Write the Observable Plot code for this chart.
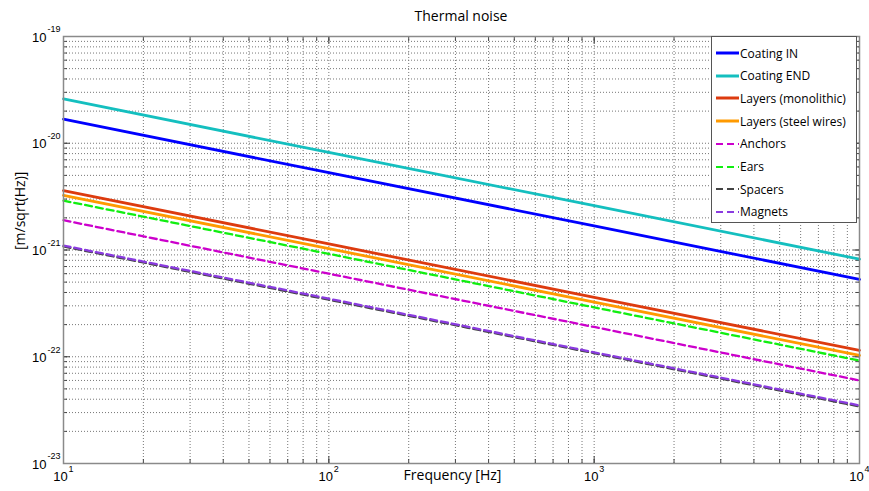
<!DOCTYPE html>
<html>
<head>
<meta charset="utf-8">
<script src="https://cdn.jsdelivr.net/npm/d3@7"></script>
<script src="https://cdn.jsdelivr.net/npm/@observablehq/plot@0.6"></script>
<style>
  body { margin: 0; background: #fff; }
  #wrap { position: relative; width: 869px; height: 491px; font-family: "Open Sans", Lato, sans-serif; }
  #title { position: absolute; left: 63px; top: 6px; width: 796px; text-align: center; font-size: 14px; color: #000; }
  #legend { position: absolute; left: 711px; top: 36px; width: 146px; height: 187px; background: #fff; border: 1px solid #555; box-sizing: border-box; }
  .item { position: absolute; left: 4px; height: 20px; display: flex; align-items: center; font-size: 12px; color: #000; white-space: nowrap; }
  .item svg { margin-right: 1px; }
</style>
</head>
<body>
<div id="wrap">
  <div id="chart"></div>
  <div id="title">Thermal noise</div>
  <div id="legend"></div>
</div>
<script>
// Frequencies (Hz) at which values were read
const freqs = [10, 100, 1000, 10000];

// Noise values [m/sqrt(Hz)] read at the frequencies above
const coatingIN      = [1.68e-20, 5.3e-21, 1.68e-21, 5.3e-22];
const coatingEND     = [2.6e-20, 8.2e-21, 2.6e-21, 8.2e-22];
const layersMono     = [3.6e-21, 1.14e-21, 3.6e-22, 1.15e-22];
const layersSteel    = [3.25e-21, 1.03e-21, 3.25e-22, 1.03e-22];
const anchors        = [1.9e-21, 6.0e-22, 1.9e-22, 6.0e-23];
const ears           = [2.9e-21, 9.2e-22, 2.9e-22, 9.2e-23];
const spacers        = [1.08e-21, 3.42e-22, 1.08e-22, 3.42e-23];
const magnets        = [1.1e-21, 3.5e-22, 1.1e-22, 3.5e-23];

const seriesNames  = ["Coating IN", "Coating END", "Layers (monolithic)", "Layers (steel wires)", "Anchors", "Ears", "Spacers", "Magnets"];
const seriesValues = [coatingIN, coatingEND, layersMono, layersSteel, anchors, ears, spacers, magnets];
const seriesColors = ["#0000ff", "#14bfbf", "#dd3b0f", "#ff9a00", "#cc00cc", "#11ee11", "#444444", "#8a3be0"];
const seriesDashed = [false, false, false, false, true, true, true, true];

// Axis tick values
const xDecades = [10, 100, 1000, 10000];
const xExponents = ["1", "2", "3", "4"];
const yDecades = [1e-19, 1e-20, 1e-21, 1e-22, 1e-23];
const yExponents = ["-19", "-20", "-21", "-22", "-23"];

const xMinor = [];
for (let e = 1; e < 4; e++) for (let m = 1; m <= 9; m++) xMinor.push(m * Math.pow(10, e));
xMinor.push(1e4);
const yMinor = [];
for (let e = -23; e < -19; e++) for (let m = 1; m <= 9; m++) yMinor.push(m * Math.pow(10, e));
yMinor.push(1e-19);

const tickFont = "Liberation Sans, Arial, sans-serif";

const marks = [
  Plot.ruleX(xMinor.slice(1, -1), {x: d => d, stroke: "#777", strokeDasharray: "1,2", strokeWidth: 1}),
  Plot.ruleY(yMinor.slice(1, -1), {y: d => d, stroke: "#777", strokeDasharray: "1,2", strokeWidth: 1}),
];

// inward ticks
for (const anchor of ["bottom", "top"]) {
  marks.push(Plot.axisX(xMinor, {anchor, tickSize: -4, tickFormat: () => "", label: null, stroke: "#444"}));
  marks.push(Plot.axisX(xDecades, {anchor, tickSize: -7, tickFormat: () => "", label: null, stroke: "#444"}));
}
for (const anchor of ["left", "right"]) {
  marks.push(Plot.axisY(yMinor, {anchor, tickSize: -4, tickFormat: () => "", label: null, stroke: "#444"}));
  marks.push(Plot.axisY(yDecades, {anchor, tickSize: -7, tickFormat: () => "", label: null, stroke: "#444"}));
}

seriesNames.forEach((name, i) => {
  const rows = freqs.map((f, j) => ({f, v: seriesValues[i][j]}));
  marks.push(Plot.line(rows, {
    x: "f", y: "v",
    stroke: seriesColors[i],
    strokeWidth: seriesDashed[i] ? 2.3 : 2.8,
    strokeDasharray: seriesDashed[i] ? "7,4" : null
  }));
});

marks.push(Plot.frame({stroke: "#8a8a8a", strokeWidth: 1.5}));

// tick labels
marks.push(Plot.text(xDecades, {x: d => d, frameAnchor: "bottom", text: () => "10", dy: 17, dx: -3, fontSize: 13, fontFamily: tickFont, fill: "#000"}));
marks.push(Plot.text(xDecades, {x: d => d, frameAnchor: "bottom", text: (d, i) => xExponents[i], dy: 8, dx: 5, textAnchor: "start", fontSize: 9, fontFamily: tickFont, fill: "#000"}));
marks.push(Plot.text(yDecades, {y: d => d, frameAnchor: "left", text: () => "10", dx: -17, dy: 1, textAnchor: "end", fontSize: 13, fontFamily: tickFont, fill: "#000"}));
marks.push(Plot.text(yDecades, {y: d => d, frameAnchor: "left", text: (d, i) => yExponents[i], dx: -16, dy: -7, textAnchor: "start", fontSize: 9, fontFamily: tickFont, fill: "#000"}));

// axis labels
marks.push(Plot.text(["Frequency [Hz]"], {frameAnchor: "bottom", text: d => d, dy: 16, dx: -9, fontSize: 14, fontFamily: "Open Sans, sans-serif", fill: "#000"}));
marks.push(Plot.text(["[m/sqrt(Hz)]"], {frameAnchor: "left", text: d => d, rotate: -90, dx: -43, fontSize: 14, fontFamily: "Open Sans, sans-serif", fill: "#000"}));

const chart = Plot.plot({
  width: 869,
  height: 491,
  marginLeft: 63,
  marginRight: 10,
  marginTop: 36,
  marginBottom: 28,
  x: {type: "log", domain: [10, 10000], axis: null},
  y: {type: "log", domain: [1e-23, 1e-19], axis: null},
  style: {background: "#fff", overflow: "visible"},
  marks
});
document.getElementById("chart").appendChild(chart);

// legend
const legend = document.getElementById("legend");
seriesNames.forEach((name, i) => {
  const item = document.createElement("div");
  item.className = "item";
  item.style.top = (6 + i * 22.7) + "px";
  const dash = seriesDashed[i] ? 'stroke-dasharray="7,4"' : "";
  const sw = seriesDashed[i] ? 2 : 3;
  item.innerHTML = `<svg width="23" height="8"><line x1="0" x2="23" y1="4" y2="4" stroke="${seriesColors[i]}" stroke-width="${sw}" ${dash}/></svg><span>${name}</span>`;
  legend.appendChild(item);
});
</script>
</body>
</html>
